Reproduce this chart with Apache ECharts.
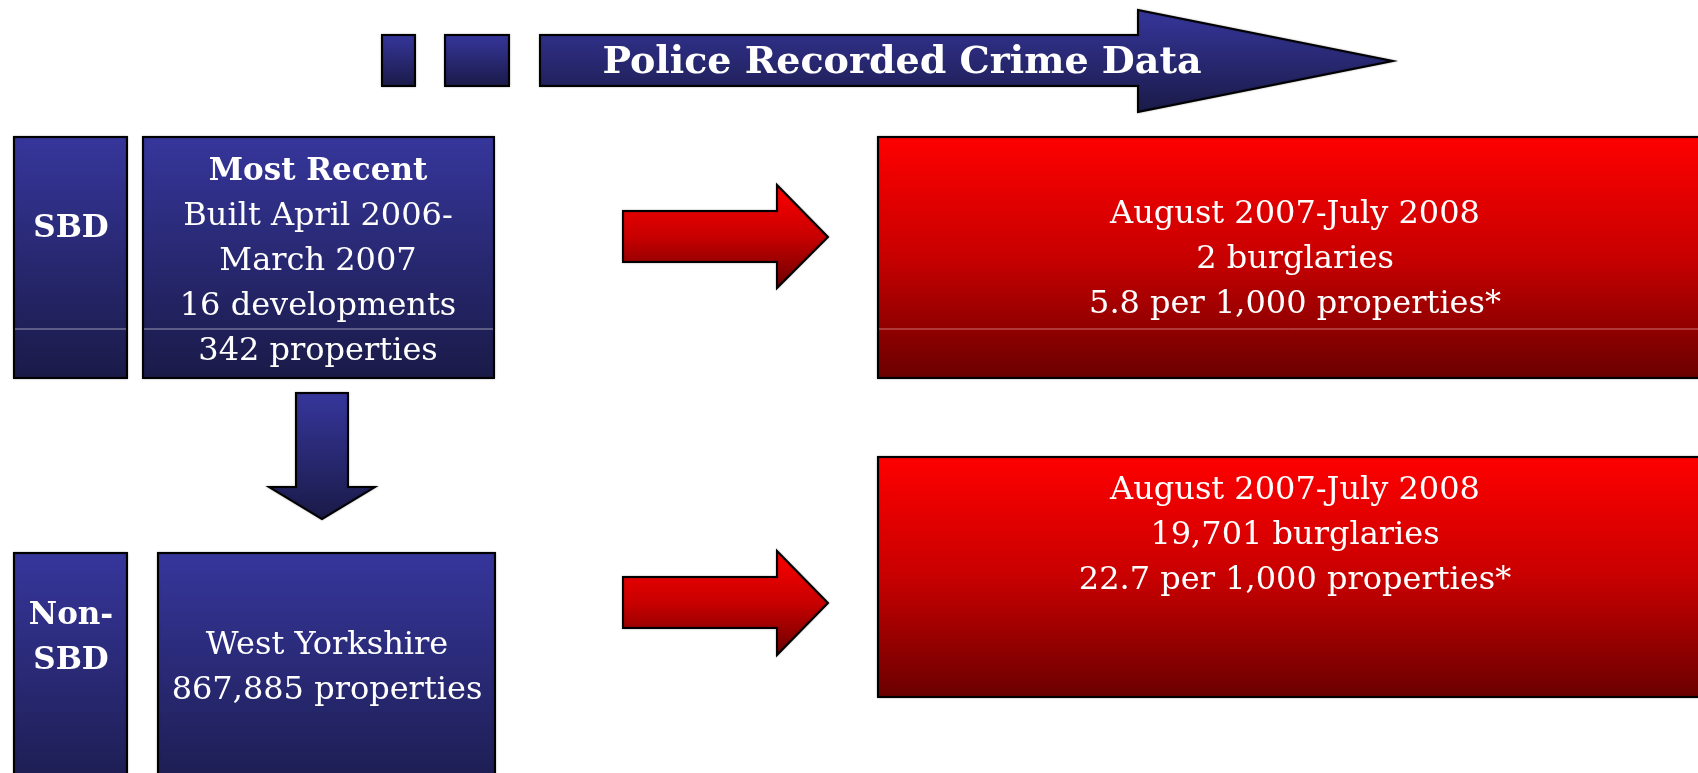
<!DOCTYPE html>
<html>
<head>
<meta charset="utf-8">
<script src="https://cdn.jsdelivr.net/npm/echarts@6/dist/echarts.min.js"></script>
<style>
html, body { margin: 0; padding: 0; background: #fff; }
#main { width: 1698px; height: 773px; }
</style>
</head>
<body>
<div id="main"></div>
<script>
var title = "Police Recorded Crime Data";
var sbdLabel = ["SBD"];
var sbdHead = "Most Recent";
var sbdLines = ["Built April 2006-", "March 2007", "16 developments", "342 properties"];
var nonSbdLabel = ["Non-", "SBD"];
var nonSbdLines = ["West Yorkshire", "867,885 properties"];
var sbdCrime = ["August 2007-July 2008", "2 burglaries", "5.8 per 1,000 properties*"];
var nonSbdCrime = ["August 2007-July 2008", "19,701 burglaries", "22.7 per 1,000 properties*"];

var chart = echarts.init(document.getElementById('main'));

var serif = "DejaVu Serif";
var blue = new echarts.graphic.LinearGradient(0, 0, 0, 1, [
    {offset: 0, color: '#36369c'},
    {offset: 1, color: '#1a1a48'}
]);
var red = new echarts.graphic.LinearGradient(0, 0, 0, 1, [
    {offset: 0, color: '#ff0000'},
    {offset: 0.5, color: '#c80000'},
    {offset: 1, color: '#6a0000'}
]);
function border(){
    return {stroke: '#000', lineWidth: 2, shadowBlur: 2, shadowColor: 'rgba(0,0,0,0.35)'};
}

function box(x, y, w, h, fill){
    return {type: 'rect', shape: {x: x, y: y, width: w, height: h},
        style: Object.assign({fill: fill}, border())};
}
function poly(points, fill){
    return {type: 'polygon', shape: {points: points},
        style: Object.assign({fill: fill}, border())};
}
function txt(s, x, y, size, bold){
    return {type: 'text', z: 10, style: {text: s, x: x, y: y,
        font: (bold ? 'bold ' : '') + size + 'px "' + serif + '"',
        fill: '#fff', textAlign: 'center', textVerticalAlign: 'middle',
        align: 'center', verticalAlign: 'middle'}};
}
function divider(x1, x2, y, c){
    return {type: 'line', z: 5, shape: {x1: x1, y1: y, x2: x2, y2: y},
        style: {stroke: c, lineWidth: 1}};
}

var els = [];

// top arrow
els.push(box(382, 35, 33, 51, blue));
els.push(box(445, 35, 64, 51, blue));
els.push(poly([[540, 35], [1138, 35], [1138, 10], [1393, 61], [1138, 112], [1138, 86], [540, 86]], blue));
els.push(txt(title, 902, 63, 38, true));

// SBD row
els.push(box(14, 137, 113, 241, blue));
els.push(box(143, 137, 351, 241, blue));
els.push(divider(15, 126, 329, 'rgba(255,255,255,0.55)'));
els.push(divider(144, 493, 329, 'rgba(255,255,255,0.55)'));
sbdLabel.forEach(function(s, i){ els.push(txt(s, 71, 229 + i * 45, 31, true)); });
els.push(txt(sbdHead, 318, 172, 31, true));
sbdLines.forEach(function(s, i){ els.push(txt(s, 318, 217 + i * 45, 32, false)); });

// down arrow
els.push(poly([[296, 393], [348, 393], [348, 487], [375, 487], [322, 519], [269, 487], [296, 487]], blue));

// Non-SBD row
els.push(box(14, 553, 113, 260, blue));
els.push(box(158, 553, 337, 260, blue));
nonSbdLabel.forEach(function(s, i){ els.push(txt(s, 71, 616 + i * 45, 31, true)); });
nonSbdLines.forEach(function(s, i){ els.push(txt(s, 327, 646 + i * 45, 32, false)); });

// red arrows
els.push(poly([[623, 211], [777, 211], [777, 185], [828, 237], [777, 288], [777, 262], [623, 262]], red));
els.push(poly([[623, 577], [777, 577], [777, 551], [828, 603], [777, 655], [777, 628], [623, 628]], red));

// red boxes
els.push(box(878, 137, 834, 241, red));
els.push(divider(879, 1698, 329, 'rgba(255,190,190,0.6)'));
sbdCrime.forEach(function(s, i){ els.push(txt(s, 1295, 215 + i * 45, 32, false)); });
els.push(box(878, 457, 834, 240, red));
nonSbdCrime.forEach(function(s, i){ els.push(txt(s, 1295, 491 + i * 45, 32, false)); });

chart.setOption({
    animation: false,
    graphic: {elements: els}
});
</script>
</body>
</html>
